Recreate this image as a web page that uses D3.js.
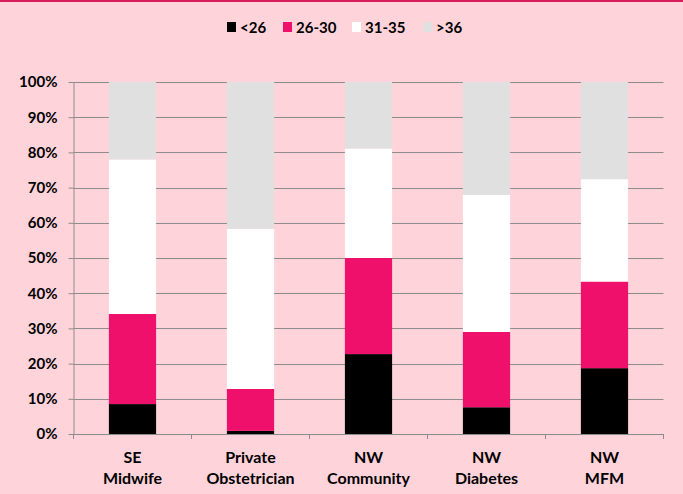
<!DOCTYPE html>
<html>
<head>
<meta charset="utf-8">
<script src="https://cdn.jsdelivr.net/npm/d3@7"></script>
<style>
  html, body { margin: 0; padding: 0; background: #ffd3da; }
  svg { display: block; font-family: Lato, "Open Sans", sans-serif; font-weight: bold; }
</style>
</head>
<body>
<div id="chart"></div>
<script>
// Stacked 100% bars: age groups by model of care
const W = 683, H = 494;

const categories = [["SE", "Midwife"], ["Private", "Obstetrician"], ["NW", "Community"], ["NW", "Diabetes"], ["NW", "MFM"]];
const groups = ["<26", "26-30", "31-35", ">36"];
const under26 = [8.5, 0.9, 22.7, 7.6, 18.7];
const age26to30 = [25.6, 11.9, 27.3, 21.4, 24.6];
const age31to35 = [43.9, 45.5, 31.1, 38.9, 29.1];
const over36 = [22.0, 41.7, 18.9, 32.1, 27.6];
const yTicks = [0, 10, 20, 30, 40, 50, 60, 70, 80, 90, 100];

const colors = ["#000000", "#ef106b", "#ffffff", "#e0e0e0"];

const rows = categories.map((c, i) => ({
  key: c.join(" "),
  lines: c,
  "<26": under26[i], "26-30": age26to30[i], "31-35": age31to35[i], ">36": over36[i]
}));

const svg = d3.select("#chart").append("svg").attr("width", W).attr("height", H);

svg.append("rect").attr("width", W).attr("height", H).attr("fill", "#ffd3da");
svg.append("rect").attr("x", 0).attr("y", 0).attr("width", W).attr("height", 2).attr("fill", "#d81e5b");

const m = { left: 73.5, right: 663.5, top: 82, bottom: 434 };

const x = d3.scaleBand().domain(rows.map(d => d.key))
  .range([m.left, m.right]).paddingInner(0.6).paddingOuter(0.3);
const y = d3.scaleLinear().domain([0, 100]).range([m.bottom, m.top]);

// gridlines
svg.append("g").selectAll("line").data(yTicks.slice(1)).join("line")
  .attr("x1", m.left).attr("x2", m.right)
  .attr("y1", d => Math.round(y(d)) + 0.5).attr("y2", d => Math.round(y(d)) + 0.5)
  .attr("stroke", "#8c8c8c").attr("stroke-width", 1);

// bars
const stack = d3.stack().keys(groups)(rows);
svg.append("g").selectAll("g").data(stack).join("g")
  .attr("fill", (d, i) => colors[i])
  .selectAll("rect").data(d => d).join("rect")
  .attr("x", d => x(d.data.key))
  .attr("width", x.bandwidth())
  .attr("y", d => y(d[1]))
  .attr("height", d => y(d[0]) - y(d[1]));

// y axis
const yAxis = svg.append("g").attr("transform", `translate(${m.left},0)`)
  .call(d3.axisLeft(y).tickValues(yTicks).tickFormat(d => d + "%").tickSize(5).tickSizeOuter(0));
yAxis.select(".domain").attr("stroke", "#8c8c8c");
yAxis.selectAll(".tick line").attr("stroke", "#8c8c8c");
yAxis.selectAll(".tick text").attr("font-size", 15).attr("font-family", "Lato, sans-serif")
  .attr("font-weight", "bold").attr("fill", "#000").attr("x", -16);

// x axis
const xLine = svg.append("g");
xLine.append("line").attr("x1", m.left).attr("x2", m.right)
  .attr("y1", m.bottom + 0.5).attr("y2", m.bottom + 0.5).attr("stroke", "#8c8c8c");
const step = x.step();
const bounds = d3.range(rows.length + 1).map(i => m.left + i * step);
xLine.selectAll(".xt").data(bounds).join("line")
  .attr("x1", d => d).attr("x2", d => d)
  .attr("y1", m.bottom).attr("y2", m.bottom + 5).attr("stroke", "#8c8c8c");

const labels = svg.append("g").selectAll("text").data(rows).join("text")
  .attr("text-anchor", "middle").attr("font-size", 16).attr("fill", "#000")
  .attr("x", d => x(d.key) + x.bandwidth() / 2);
labels.selectAll("tspan").data(d => d.lines).join("tspan")
  .attr("x", function () { return d3.select(this.parentNode).attr("x"); })
  .attr("y", (d, i) => 463 + i * 21)
  .text(d => d);

// legend
const legendX = [227, 283, 352, 423];
const legend = svg.append("g").selectAll("g").data(groups).join("g")
  .attr("transform", (d, i) => `translate(${legendX[i]},22)`);
legend.append("rect").attr("width", 9).attr("height", 10).attr("y", 0)
  .attr("fill", (d, i) => colors[i]);
legend.append("text").attr("x", 13).attr("y", 10.5).attr("font-size", 15).attr("fill", "#000")
  .text(d => d);
</script>
</body>
</html>
